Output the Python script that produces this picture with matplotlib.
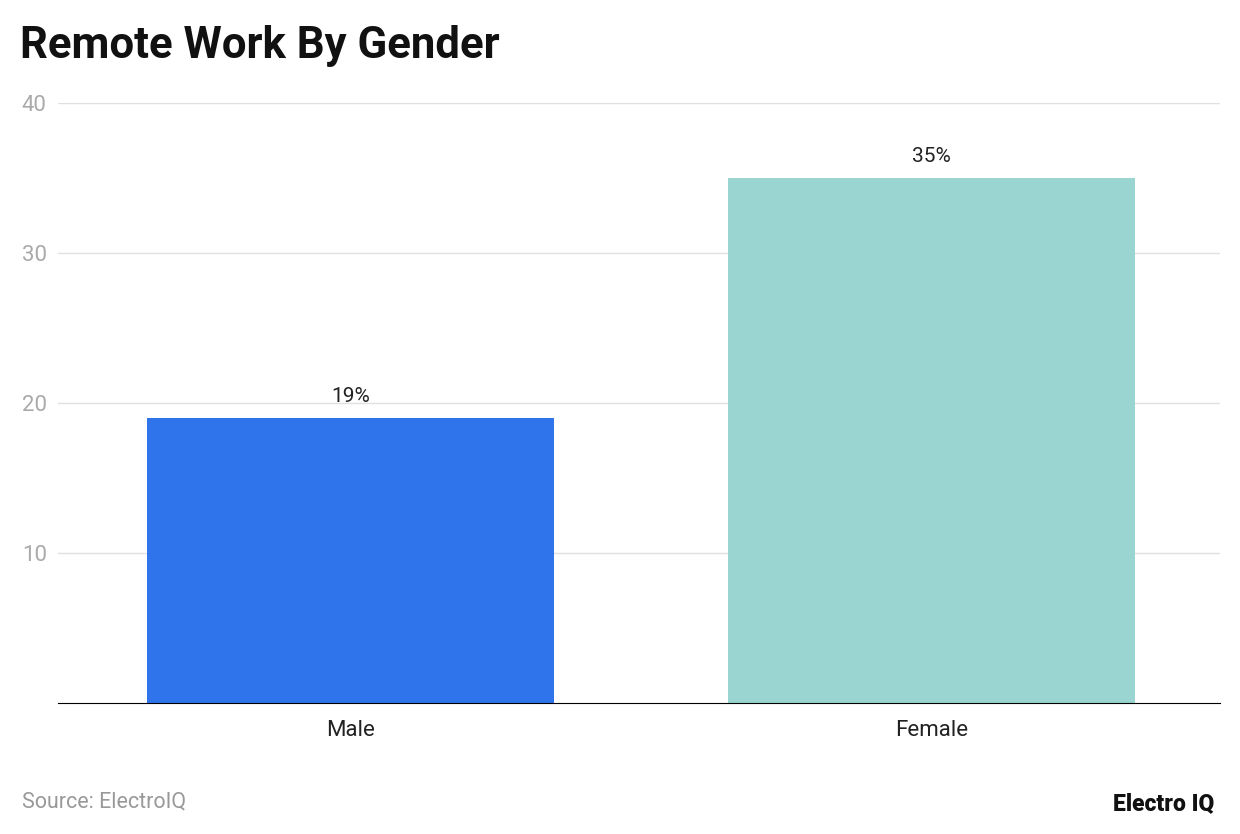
import matplotlib
matplotlib.use("Agg")
import matplotlib.pyplot as plt

categories = ["Male", "Female"]
values = [19, 35]
labels = ["19%", "35%"]
colors = ["#3074ec", "#9ad5d1"]
yticks = [10, 20, 30, 40]

plt.rcParams['font.family'] = ['Roboto', 'DejaVu Sans']
fig = plt.figure(figsize=(12.4, 8.34), dpi=100)
ax = fig.add_axes([58/1240, 1-703/834, 1162/1240, 600/834])
x = list(range(len(categories)))
ax.bar(x, values, width=0.7, color=colors, zorder=3)
for xi, v, l in zip(x, values, labels):
    ax.text(xi, v + 0.8, l, ha='center', va='bottom', fontsize=15, color='#222222')
ax.set_xlim(-0.503, 1.497)
ax.set_ylim(0, 40)
ax.set_yticks(yticks)
ax.set_yticklabels([str(t) for t in yticks], fontsize=16, color='#aaaaaa')
ax.set_xticks(x)
ax.set_xticklabels(categories, fontsize=16, color='#222222')
ax.tick_params(axis='x', length=0, pad=12)
for lbl in ax.get_yticklabels():
    lbl.set_horizontalalignment('left')
ax.tick_params(axis='y', length=0, pad=26)
ax.grid(axis='y', color='#e0e0e0', linewidth=1, zorder=0)
for s in ['top', 'right', 'left']:
    ax.spines[s].set_visible(False)
ax.spines['bottom'].set_color('black')
ax.spines['bottom'].set_zorder(4)

fig.text(20/1240, 1-46/834, "Remote Work By Gender", fontsize=31.5, fontweight='bold', va='center', ha='left', color='#111111')
fig.text(22/1240, 1-802/834, "Source: ElectroIQ", fontsize=15.5, color='#999999', va='center', ha='left')
fig.text(1214/1240, 1-804/834, "Electro IQ", fontsize=16.5, fontweight='black', color='#111111', va='center', ha='right')
fig.savefig("out.png", dpi=100)
